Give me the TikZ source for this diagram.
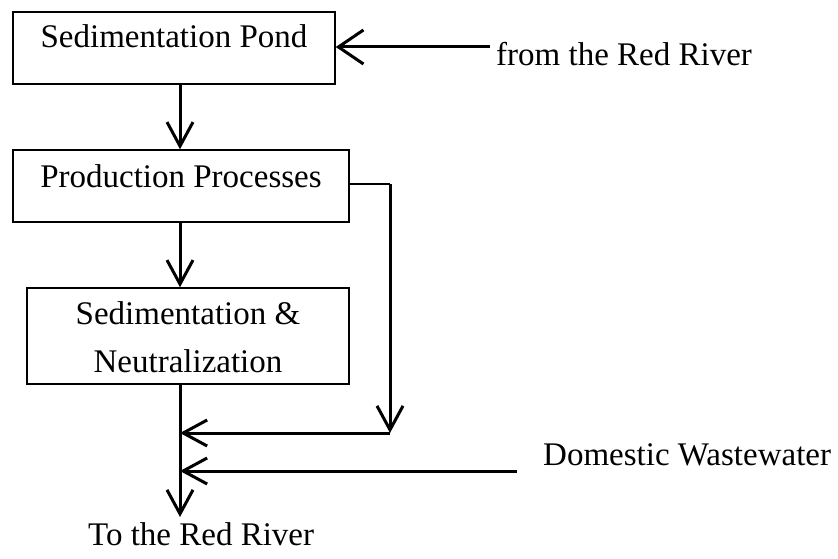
\documentclass[tikz,border=0pt]{standalone}
\usepackage{fontspec}
\setmainfont{Liberation Serif}
\usetikzlibrary{arrows.meta}
\tikzset{
  x=1pt, y=-1pt,
  lbl/.style={font=\fontsize{33}{48}\selectfont, inner sep=0pt},
  stage/.style={lbl, draw, line width=1.5pt, anchor=base},
  flow/.style={line width=3pt, -{Straight Barb[length=24pt,width=26pt]}},
  bigflow/.style={line width=3pt, -{Straight Barb[length=25pt,width=34pt]}},
  pipe/.style={line width=3pt},
  thinpipe/.style={line width=1.3pt}
}
\begin{document}
\begin{tikzpicture}
  \useasboundingbox (0,0) rectangle (838,559);

  % process stages
  \node[stage, minimum width=322pt, text height=36pt, text depth=36pt]
    (pond) at (174,48) {Sedimentation Pond};
  \node[stage, minimum width=336pt, text height=37pt, text depth=35pt]
    (prod) at (181,187) {Production Processes};
  \node[stage, minimum width=322pt, text height=36pt, text depth=60pt]
    (sedneu) at (188,324)
    {\begin{tabular}[t]{@{}c@{}}Sedimentation \&\\Neutralization\end{tabular}};

  % free labels
  \node[lbl, anchor=base west] (fromtxt) at (496,66) {from the Red River};
  \node[lbl, anchor=base west] (domtxt) at (543,465) {Domestic Wastewater};
  \node[lbl, anchor=base west] (totxt) at (88,545) {To the Red River};

  % helper points
  \coordinate (spine) at (180,0);
  \coordinate (intake) at (490,47);
  \coordinate (bypasstop) at (390,184);
  \coordinate (bypassbot) at (390,433);
  \coordinate (domstart) at (517,471);
  \coordinate (outlet) at (180,517);

  % main flow
  \draw[bigflow] (intake) -- (pond.east |- intake);
  \draw[flow] (pond.south -| spine) -- (prod.north -| spine);
  \draw[flow] (prod.south -| spine) -- (sedneu.north -| spine);
  \draw[flow] (sedneu.south -| spine) -- (outlet);

  % bypass from production
  \draw[thinpipe] (prod.east |- bypasstop) -- (bypasstop);
  \draw[flow] (bypasstop) -- (bypassbot);
  \draw[flow] (bypassbot) -- (spine |- bypassbot);

  % domestic wastewater inflow
  \draw[flow] (domstart) -- (spine |- domstart);
\end{tikzpicture}
\end{document}
